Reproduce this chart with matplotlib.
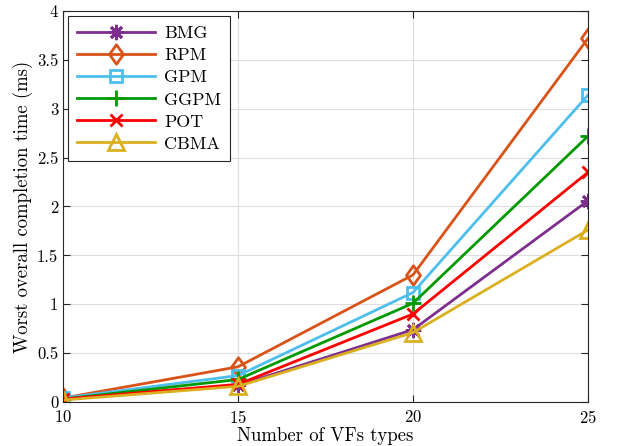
import matplotlib
matplotlib.use('Agg')
import matplotlib.pyplot as plt
from matplotlib.path import Path

# --- DATA ---
vf_types = [10, 15, 20, 25]
bmg = [0.03, 0.17, 0.74, 2.06]
rpm = [0.04, 0.36, 1.30, 3.72]
gpm = [0.04, 0.27, 1.12, 3.14]
ggpm = [0.03, 0.23, 1.01, 2.72]
pot = [0.03, 0.18, 0.90, 2.35]
cbma = [0.02, 0.16, 0.71, 1.76]

# MATLAB-like diamond (a bit taller than wide)
diamond = Path([(0, 1), (0.72, 0), (0, -1), (-0.72, 0), (0, 1)],
               [Path.MOVETO, Path.LINETO, Path.LINETO, Path.LINETO, Path.CLOSEPOLY])

# name, values, colour, marker, marker size
series = [
    ('BMG', bmg, '#7E2F8E', (8, 2, 0), 11),
    ('RPM', rpm, '#D95319', diamond, 14),
    ('GPM', gpm, '#4DBEEE', 's', 8),
    ('GGPM', ggpm, '#009900', '+', 12),
    ('POT', pot, '#FF0000', 'x', 9),
    ('CBMA', cbma, '#DBB020', '^', 11),
]

plt.rcParams['font.family'] = 'serif'
plt.rcParams['font.serif'] = ['cmr10']
plt.rcParams['mathtext.fontset'] = 'cm'
plt.rcParams['axes.formatter.use_mathtext'] = True

fig = plt.figure(figsize=(6.2, 4.46), dpi=100)
ax = fig.add_axes([0.1016, 0.0987, 0.8468, 0.8766])

for name, vals, col, mk, ms in series:
    ax.plot(vf_types, vals, color=col, lw=2, marker=mk, ms=ms,
            mfc='none', mec=col, mew=2, label=name)

ax.set_xlim(10, 25)
ax.set_ylim(0, 4)
ax.set_xticks([10, 15, 20, 25])
ax.set_yticks([0, 0.5, 1, 1.5, 2, 2.5, 3, 3.5, 4])
ax.set_yticklabels(['0', '0.5', '1', '1.5', '2', '2.5', '3', '3.5', '4'])
ax.grid(True, color='#DDDDDD', lw=0.8)
ax.set_axisbelow(True)
ax.tick_params(direction='in', top=True, right=True, labelsize=12,
               color='#262626', length=5)
ax.tick_params(axis='x', pad=5)
for sp in ax.spines.values():
    sp.set_color('#262626')
    sp.set_linewidth(0.8)

ax.set_xlabel('Number of VFs types', fontsize=13.5, labelpad=1)
ax.set_ylabel('Worst overall completion time (ms)', fontsize=13.5, labelpad=3)

leg = ax.legend(loc='upper left', fontsize=13, fancybox=False, framealpha=1,
                edgecolor='#262626', handlelength=4.3, handletextpad=0.5,
                borderaxespad=0.3, borderpad=0.5, labelspacing=0.36)
leg.get_frame().set_linewidth(0.8)

fig.savefig('out.png', dpi=100)
